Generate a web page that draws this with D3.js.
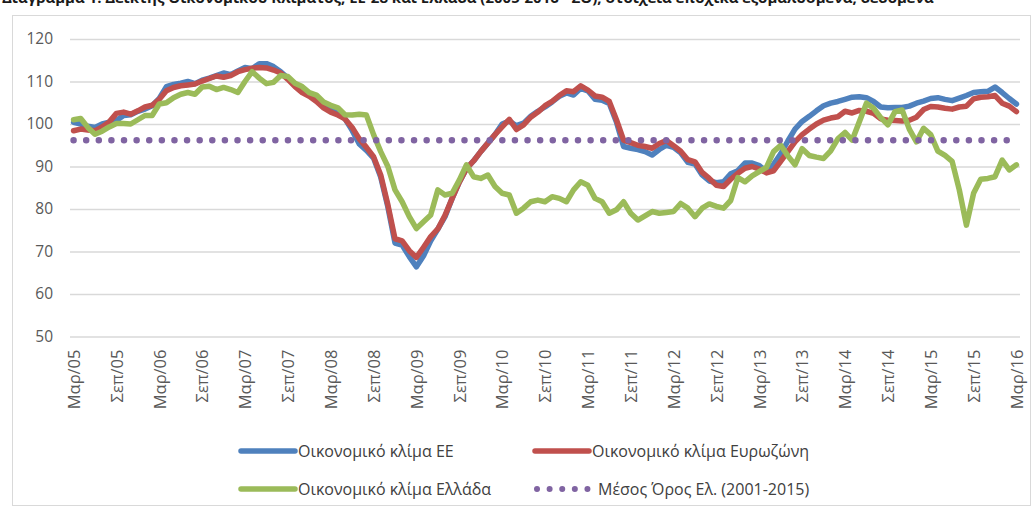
<!DOCTYPE html>
<html>
<head>
<meta charset="utf-8">
<script src="https://cdn.jsdelivr.net/npm/d3@7"></script>
<style>
  body { margin: 0; background: #fff; }
  svg text { font-family: "Open Sans", "Noto Sans", sans-serif; }
</style>
</head>
<body>
<div class="chart-container"></div>
<script>
//! DATA
const monthNames = ['Ιαν', 'Φεβ', 'Μαρ', 'Απρ', 'Μαϊ', 'Ιουν', 'Ιουλ', 'Αυγ', 'Σεπ', 'Οκτ', 'Νοε', 'Δεκ'];
// Mar/05 .. Mar/16, monthly
const categories = [];
for (let y = 2005, m = 2; y < 2016 || (y === 2016 && m <= 2); m++) {
  if (m === 12) { m = 0; y++; }
  categories.push(`${monthNames[m]}/${String(y).slice(2)}`);
}

const climateEU = [
  100.4, 100.0, 99.5, 99.2, 100.0, 100.4, 100.8, 102.0, 102.2, 103.0, 103.5, 104.3,
  106.0, 108.8, 109.3, 109.6, 110.0, 109.5, 110.3, 110.8, 111.4, 112.0, 111.6, 112.5,
  113.3, 113.0, 114.2, 114.2, 113.5, 112.3, 110.8, 109.4, 108.1, 107.2, 105.8, 104.6,
  103.8, 102.7, 101.2, 98.5, 95.3, 93.8, 92.0, 87.5, 80.5, 72.0, 71.5, 68.8,
  66.4, 69.0, 72.5, 75.3, 78.2, 82.5, 86.3, 89.5, 91.3, 93.5, 95.5, 97.5,
  100.0, 100.7, 99.6, 100.2, 101.8, 103.0, 104.0, 105.2, 106.5, 107.3, 106.8, 108.4,
  107.8, 105.8, 105.6, 104.8, 100.5, 94.7, 94.3, 94.0, 93.5, 92.7, 94.0, 95.0,
  94.5, 93.2, 91.0, 90.6, 88.0, 86.6, 86.2, 86.4, 88.3, 89.0, 90.8, 90.8,
  90.2, 88.8, 90.5, 93.0, 96.0, 98.8, 100.6, 101.8, 103.1, 104.3, 104.9, 105.3,
  105.8, 106.3, 106.4, 106.2, 105.3, 104.0, 103.8, 103.9, 103.9, 104.2, 104.9, 105.4,
  106.0, 106.2, 105.8, 105.5, 106.1, 106.7, 107.4, 107.6, 107.7, 108.7, 107.4, 106.0,
  104.7
];

const climateEZ = [
  98.4, 98.8, 98.6, 98.4, 99.3, 100.5, 102.5, 102.8, 102.3, 103.1, 104.0, 104.4,
  105.8, 107.8, 108.6, 109.0, 109.2, 109.4, 110.1, 110.7, 111.3, 111.0, 111.4, 112.3,
  112.8, 113.1, 113.3, 113.2, 112.7, 112.0, 110.5, 108.8, 107.4, 106.5, 105.3, 103.8,
  102.8, 102.1, 101.2, 99.2, 96.5, 94.5, 92.3, 88.0, 81.0, 73.0, 72.5, 70.2,
  68.6, 71.0, 73.5, 75.3, 78.5, 82.5, 86.3, 89.5, 91.3, 93.5, 95.5, 97.5,
  99.3, 101.1, 98.7, 99.8, 101.6, 102.8, 104.3, 105.3, 106.7, 107.8, 107.6, 109.0,
  108.0, 106.6, 106.3, 105.3, 101.0, 96.2, 95.6, 95.0, 94.7, 94.3, 95.4, 96.1,
  94.9, 93.6, 91.6, 91.1, 88.6, 87.2, 85.6, 85.3, 87.0, 88.4, 89.6, 90.0,
  89.4, 88.5, 89.0, 91.2, 93.5, 95.8, 97.5, 98.8, 100.0, 100.9, 101.4, 101.7,
  103.0, 102.6, 103.2, 103.0, 102.5, 101.2, 100.9, 100.8, 100.7, 100.9, 101.6, 103.4,
  104.1, 104.0, 103.7, 103.5, 104.0, 104.2, 105.9, 106.3, 106.4, 106.7, 104.9, 104.2,
  102.9
];

const climateGR = [
  101.0, 101.3, 99.2, 97.6, 98.3, 99.3, 100.1, 100.1, 100.0, 101.0, 102.0, 102.0,
  104.7, 105.0, 106.2, 107.0, 107.4, 107.0, 108.7, 108.9, 108.1, 108.6, 108.1, 107.4,
  110.0, 112.3, 110.8, 109.5, 109.8, 111.4, 111.2, 109.6, 108.8, 107.4, 106.8, 105.2,
  104.4, 103.8, 102.2, 102.1, 102.3, 102.1, 97.5, 93.5, 90.0, 84.5, 81.7, 78.2,
  75.4, 77.0, 78.6, 84.5, 83.3, 83.7, 86.8, 90.4, 87.6, 87.2, 88.0, 85.3,
  83.7, 83.3, 79.0, 80.2, 81.7, 82.1, 81.7, 82.9, 82.5, 81.7, 84.5, 86.4,
  85.6, 82.5, 81.7, 79.0, 79.8, 81.7, 79.0, 77.4, 78.4, 79.4, 79.0, 79.2,
  79.4, 81.3, 80.2, 78.2, 80.2, 81.2, 80.6, 80.2, 82.0, 87.4, 86.4, 87.8,
  88.8, 89.8, 93.5, 95.0, 92.5, 90.4, 94.2, 92.6, 92.2, 91.9, 93.7, 96.5,
  98.0, 96.2, 100.5, 104.9, 103.7, 101.5, 99.8, 102.9, 103.3, 98.8, 95.8, 99.0,
  97.5, 93.6, 92.6, 91.2, 84.5, 76.2, 83.7, 87.0, 87.2, 87.6, 91.5, 89.2,
  90.4
];

const greeceMean = 96.2;
const yTicks = [50, 60, 70, 80, 90, 100, 110, 120];
const seriesNames = ['Οικονομικό κλίμα ΕΕ', 'Οικονομικό κλίμα Ευρωζώνη', 'Οικονομικό κλίμα Ελλάδα', 'Μέσος Όρος Ελ. (2001-2015)'];
const titleText = 'Διάγραμμα 1: Δείκτης Οικονομικού Κλίματος, ΕΕ-28 και Ελλάδα (2005-2016 - ΣΟ), στοιχεία εποχικά εξομαλυσμένα, δεδομένα';

//! CONSTS
const width = 1035;
const height = 510;
const plot = { left: 70, right: 1020, top: 39, bottom: 336.5 };
const colors = ['#4F81BD', '#C0504D', '#9BBB59', '#8064A2'];

//! SVG
const svg = d3.select('.chart-container')
  .append('svg')
  .attr('width', width)
  .attr('height', height);

// frame
svg.append('rect')
  .attr('x', 12.5).attr('y', 15.5)
  .attr('width', 1018).attr('height', 490)
  .attr('fill', '#fff')
  .attr('stroke', '#d9d9d9');

// caption above the frame (cropped in the source picture)
svg.append('text')
  .attr('x', 2).attr('y', 3)
  .attr('font-size', 15).attr('font-weight', 'bold')
  .attr('fill', '#1a1a1a')
  .text(titleText);

//! SCALES
const xScale = d3.scalePoint()
  .domain(categories)
  .range([plot.left, plot.right])
  .padding(0.5);

const yScale = d3.scaleLinear()
  .domain([50, 120])
  .range([plot.bottom, plot.top]);

//! AXES
const yAxis = d3.axisLeft(yScale)
  .tickValues(yTicks)
  .tickSize(-(plot.right - plot.left))
  .tickPadding(17);

svg.append('g')
  .attr('id', 'y-axis')
  .attr('transform', `translate(${plot.left},0)`)
  .call(yAxis)
  .call(g => g.select('.domain').remove())
  .call(g => g.selectAll('line').attr('stroke', '#d9d9d9').attr('stroke-width', 1.3))
  .call(g => g.selectAll('text')
    .attr('fill', '#595959')
    .attr('font-size', 15.5)
    .style('font-family', '"Open Sans", sans-serif'));

const xAxis = d3.axisBottom(xScale)
  .tickValues(categories.filter((d, i) => i % 6 === 0))
  .tickSize(0);

svg.append('g')
  .attr('id', 'x-axis')
  .attr('transform', `translate(0,${plot.bottom})`)
  .call(xAxis)
  .call(g => g.select('.domain').remove())
  .call(g => g.selectAll('text')
    .attr('fill', '#595959')
    .attr('font-size', 16.5)
    .style('font-family', '"Open Sans", sans-serif')
    .attr('text-anchor', 'end')
    .attr('transform', 'rotate(-90)')
    .attr('x', -13)
    .attr('y', 0)
    .attr('dy', '0.35em'));

//! LINES
const line = d3.line()
  .x((d, i) => xScale(categories[i]))
  .y(d => yScale(d));

[climateEU, climateEZ, climateGR].forEach((values, k) => {
  svg.append('path')
    .datum(values)
    .attr('fill', 'none')
    .attr('stroke', colors[k])
    .attr('stroke-width', 5.5)
    .attr('stroke-linejoin', 'round')
    .attr('stroke-linecap', 'round')
    .attr('d', line);
});

svg.append('path')
  .datum(categories.map(() => greeceMean))
  .attr('fill', 'none')
  .attr('stroke', colors[3])
  .attr('stroke-width', 6.5)
  .attr('stroke-linecap', 'round')
  .attr('stroke-dasharray', '0.01 12.6')
  .attr('d', line);

//! LEGEND
const legendPos = [
  { x: 238, y: 451 }, { x: 532, y: 451 },
  { x: 238, y: 489 }, { x: 532, y: 489 }
];

const legend = svg.append('g').attr('id', 'legend');
seriesNames.forEach((name, k) => {
  const p = legendPos[k];
  const item = legend.append('g').attr('transform', `translate(${p.x},${p.y})`);
  if (k < 3) {
    item.append('line')
      .attr('x1', 3).attr('x2', 57)
      .attr('stroke', colors[k])
      .attr('stroke-width', 5.5)
      .attr('stroke-linecap', 'round');
  } else {
    item.append('line')
      .attr('x1', 5).attr('x2', 57)
      .attr('stroke', colors[k])
      .attr('stroke-width', 6)
      .attr('stroke-linecap', 'round')
      .attr('stroke-dasharray', '0.01 12.6');
  }
  item.append('text')
    .attr('x', k === 3 ? 66 : 60)
    .attr('dy', '0.35em')
    .attr('font-size', 16)
    .attr('fill', '#404040')
    .text(name);
});
</script>
</body>
</html>
